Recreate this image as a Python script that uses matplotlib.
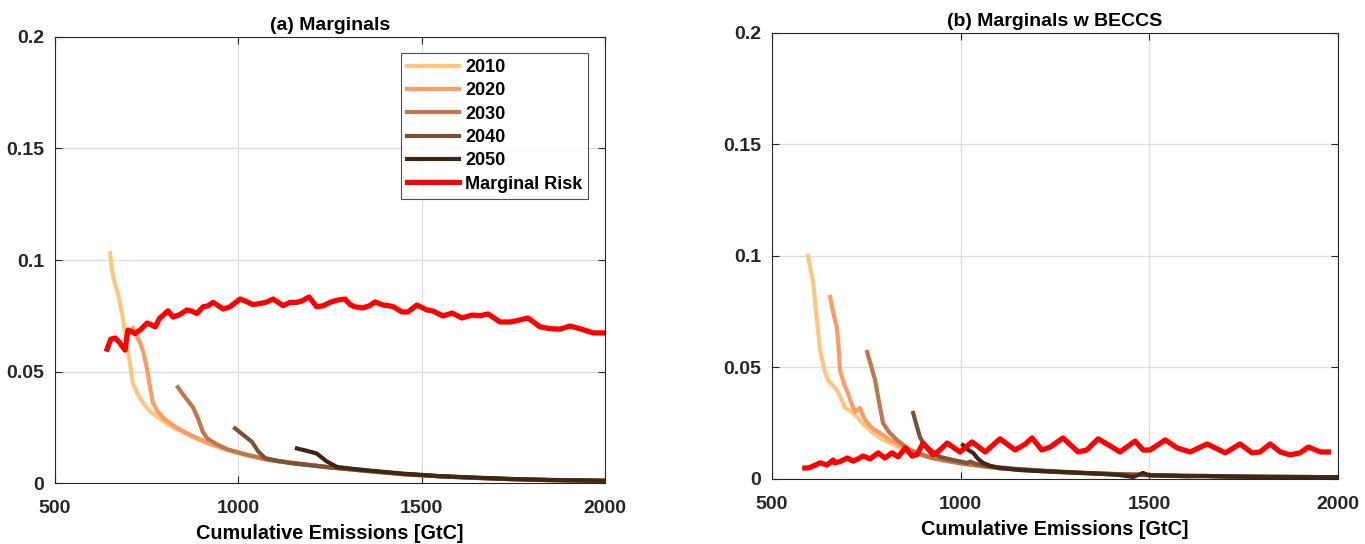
import numpy as np
import matplotlib.pyplot as plt

plt.rcParams["font.family"] = ["Liberation Sans", "DejaVu Sans"]
plt.rcParams["font.weight"] = "bold"

YEARS = ["2010", "2020", "2030", "2040", "2050"]
COLORS = ["#fec67f", "#fa9c68", "#bd784f", "#7b5236", "#3e2718"]
RISK_COLOR = "#ff0000"

# (a) Marginals
x10a = [650, 656, 662, 670, 678, 685, 692, 698, 705, 712, 725, 740, 760, 785, 810, 840, 876, 920, 969,
        1020, 1078, 1150, 1250, 1350, 1450, 1550, 1650, 1750, 1850, 1950, 2000]
y10a = [0.103, 0.095, 0.09, 0.086, 0.080, 0.074, 0.066, 0.060, 0.053, 0.045, 0.040, 0.036, 0.032, 0.029,
        0.026, 0.0235, 0.0205, 0.0175, 0.0148, 0.0125, 0.0103, 0.0088, 0.0069, 0.0053, 0.0039, 0.003,
        0.0022, 0.0017, 0.0013, 0.0011, 0.001]
x20a = [713, 722, 732, 742, 750, 758, 767, 780, 800, 830, 876, 920, 969, 1020, 1078, 1150, 1250, 1350,
        1450, 1550, 1650, 1750, 1850, 1950, 2000]
y20a = [0.0695, 0.066, 0.063, 0.058, 0.052, 0.044, 0.036, 0.032, 0.0285, 0.025, 0.021, 0.0178, 0.015,
        0.0127, 0.0105, 0.0089, 0.007, 0.0054, 0.004, 0.003, 0.0023, 0.0017, 0.0013, 0.0011, 0.001]
x30a = [835, 848, 862, 876, 890, 903, 915, 940, 969, 1020, 1078, 1150, 1250, 1350, 1450, 1550, 1650,
        1750, 1850, 1950, 2000]
y30a = [0.043, 0.040, 0.037, 0.034, 0.029, 0.023, 0.020, 0.0175, 0.0152, 0.0128, 0.0106, 0.009, 0.0071,
        0.0055, 0.004, 0.003, 0.0023, 0.0017, 0.0013, 0.0011, 0.001]
x40a = [991, 1010, 1037, 1055, 1073, 1110, 1150, 1250, 1350, 1450, 1550, 1650, 1750, 1850, 1950, 2000]
y40a = [0.0245, 0.022, 0.0185, 0.014, 0.0112, 0.0098, 0.0088, 0.007, 0.0055, 0.004, 0.003, 0.0023,
        0.0017, 0.0013, 0.0011, 0.001]
x50a = [1160, 1190, 1214, 1240, 1269, 1300, 1350, 1450, 1550, 1650, 1750, 1850, 1950, 2000]
y50a = [0.0155, 0.0143, 0.0132, 0.0098, 0.0072, 0.0066, 0.0057, 0.0042, 0.0031, 0.0024, 0.0018, 0.0014,
        0.0011, 0.001]
xra = [642, 652, 664, 676, 691, 699, 708, 718, 735, 751, 762, 773, 786, 797, 808, 822, 840, 860, 874, 887,
       904, 918, 931, 945, 959, 977, 1005, 1020, 1040, 1060, 1075, 1095, 1122, 1141, 1160, 1173, 1193, 1214,
       1232, 1250, 1270, 1291, 1305, 1318, 1340, 1358, 1373, 1395, 1410, 1423, 1446, 1463, 1487, 1514, 1531,
       1558, 1583, 1610, 1637, 1660, 1681, 1714, 1741, 1765, 1790, 1823, 1850, 1877, 1905, 1935, 1968, 1995]
yra = [0.060, 0.0645, 0.065, 0.063, 0.0596, 0.0686, 0.068, 0.067, 0.069, 0.0717, 0.071, 0.070, 0.074,
       0.0755, 0.0772, 0.0744, 0.0755, 0.0776, 0.077, 0.076, 0.079, 0.0795, 0.081, 0.0795, 0.078, 0.079,
       0.0825, 0.0815, 0.080, 0.0805, 0.081, 0.0825, 0.0795, 0.081, 0.081, 0.0816, 0.0834, 0.079, 0.0795,
       0.081, 0.082, 0.0825, 0.080, 0.079, 0.0785, 0.0795, 0.0812, 0.0798, 0.0795, 0.079, 0.0767, 0.0767,
       0.0798, 0.0776, 0.0771, 0.0749, 0.0762, 0.074, 0.0753, 0.075, 0.0758, 0.0722, 0.0722, 0.073, 0.074,
       0.070, 0.0692, 0.069, 0.0704, 0.069, 0.0673, 0.0673]

# (b) Marginals w BECCS
x10b = [595, 602, 609, 618, 627, 637, 648, 660, 672, 683, 693, 708, 725, 745, 768, 790, 813, 835, 858, 900,
        950, 1000, 1050, 1100, 1200, 1300, 1400, 1500, 1600, 1700, 1800, 1900, 2000]
y10b = [0.1, 0.094, 0.088, 0.073, 0.058, 0.05, 0.0444, 0.042, 0.040, 0.036, 0.032, 0.0305, 0.0278, 0.024,
        0.0206, 0.018, 0.016, 0.0143, 0.013, 0.0105, 0.0085, 0.007, 0.0058, 0.0048, 0.0037, 0.0028, 0.0022,
        0.0017, 0.0014, 0.0012, 0.001, 0.0009, 0.0008]
x20b = [654, 663, 672, 676, 680, 690, 701, 710, 720, 733, 742, 752, 768, 786, 810, 840, 870, 900, 950, 1000,
        1050, 1100, 1200, 1300, 1400, 1500, 1600, 1700, 1800, 1900, 2000]
y20b = [0.0816, 0.074, 0.0677, 0.060, 0.0489, 0.043, 0.0386, 0.034, 0.030, 0.0318, 0.028, 0.0251, 0.0225,
        0.0206, 0.0178, 0.015, 0.0128, 0.011, 0.0088, 0.0072, 0.0059, 0.0049, 0.0037, 0.0028, 0.0022,
        0.0017, 0.0014, 0.0012, 0.001, 0.0009, 0.0008]
x30b = [752, 762, 773, 784, 794, 810, 831, 850, 866, 890, 920, 950, 1000, 1050, 1100, 1200, 1300, 1400,
        1500, 1600, 1700, 1800, 1900, 2000]
y30b = [0.0569, 0.051, 0.0444, 0.034, 0.0251, 0.021, 0.0175, 0.015, 0.013, 0.0112, 0.0095, 0.0085, 0.007,
        0.0059, 0.0049, 0.0037, 0.0028, 0.0022, 0.0017, 0.0014, 0.0012, 0.001, 0.0009, 0.0008]
x40b = [874, 883, 892, 901, 911, 928, 945, 980, 1017, 1025, 1040, 1078, 1150, 1250, 1350, 1450, 1550, 1650,
        1750, 1850, 2000]
y40b = [0.0296, 0.024, 0.0188, 0.016, 0.0143, 0.012, 0.0099, 0.0085, 0.0072, 0.0078, 0.0068, 0.0056,
        0.0045, 0.0034, 0.0026, 0.002, 0.0016, 0.0013, 0.0011, 0.001, 0.0008]
x50b = [1006, 1020, 1033, 1046, 1059, 1080, 1104, 1157, 1200, 1282, 1350, 1420, 1457, 1483, 1500, 1550,
        1600, 1650, 1700, 1800, 1900, 2000]
y50b = [0.0152, 0.013, 0.0117, 0.009, 0.0072, 0.0058, 0.0049, 0.004, 0.0036, 0.003, 0.0025, 0.0018,
        0.0009, 0.0027, 0.0016, 0.0015, 0.0012, 0.0014, 0.0011, 0.0009, 0.0008, 0.0008]
xrb = [587, 598, 612, 627, 646, 662, 666, 680, 699, 715, 728, 741, 760, 781, 799, 818, 834, 853, 871, 885,
       900, 927, 945, 964, 998, 1030, 1065, 1104, 1144, 1170, 1189, 1215, 1237, 1271, 1311, 1334, 1364,
       1401, 1422, 1462, 1483, 1502, 1542, 1574, 1608, 1653, 1701, 1740, 1772, 1793, 1820, 1847, 1873,
       1899, 1921, 1953, 1974]
yrb = [0.0049, 0.005, 0.006, 0.0072, 0.0063, 0.0085, 0.0072, 0.0078, 0.0094, 0.008, 0.009, 0.0103, 0.009,
       0.0117, 0.0094, 0.0117, 0.0099, 0.0139, 0.0103, 0.011, 0.0161, 0.0108, 0.013, 0.0161, 0.0121,
       0.0166, 0.0121, 0.0180, 0.013, 0.0155, 0.0184, 0.013, 0.0143, 0.0184, 0.0121, 0.013, 0.018, 0.0143,
       0.0121, 0.017, 0.013, 0.013, 0.0175, 0.0139, 0.0121, 0.0157, 0.0117, 0.0157, 0.0117, 0.0121, 0.0157,
       0.0121, 0.0108, 0.0117, 0.0143, 0.0121, 0.0121]

X_TICKS = [500, 1000, 1500, 2000]
Y_TICKS = [0, 0.05, 0.1, 0.15, 0.2]
Y_LABELS = ["0", "0.05", "0.1", "0.15", "0.2"]


def style_axes(ax, title):
    ax.set_xlim(500, 2000)
    ax.set_ylim(0, 0.2)
    ax.set_xticks(X_TICKS)
    ax.set_yticks(Y_TICKS)
    ax.set_yticklabels(Y_LABELS)
    ax.tick_params(direction="in", top=True, right=True, labelsize=14, length=5,
                   color="#262626", labelcolor="#262626", pad=8)
    ax.tick_params(axis="x", pad=12)
    for lab in ax.get_xticklabels() + ax.get_yticklabels():
        lab.set_fontweight("bold")
    for sp in ax.spines.values():
        sp.set_color("#262626")
        sp.set_linewidth(0.8)
    ax.grid(True, color="#dcdcdc", lw=0.9)
    ax.set_axisbelow(True)
    ax.set_title(title, fontsize=14, fontweight="bold", pad=5)
    ax.set_xlabel("Cumulative Emissions [GtC]", fontsize=14.3, fontweight="bold", labelpad=5.5)


fig = plt.figure(figsize=(13.65, 5.44), dpi=100)
ax1 = fig.add_axes([0.0403, 0.1121, 0.4029, 0.8199])
ax2 = fig.add_axes([0.5656, 0.1195, 0.4147, 0.8199])

series_a = [(x10a, y10a), (x20a, y20a), (x30a, y30a), (x40a, y40a), (x50a, y50a)]
series_b = [(x10b, y10b), (x20b, y20b), (x30b, y30b), (x40b, y40b), (x50b, y50b)]

for (xs, ys), c, lab in zip(series_a, COLORS, YEARS):
    ax1.plot(xs, ys, color=c, lw=3, label=lab, solid_joinstyle="round")
ax1.plot(xra, yra, color=RISK_COLOR, lw=3.8, label="Marginal Risk")

for (xs, ys), c in zip(series_b, COLORS):
    ax2.plot(xs, ys, color=c, lw=3, solid_joinstyle="round")
ax2.plot(xrb, yrb, color=RISK_COLOR, lw=3.8)

style_axes(ax1, "(a) Marginals")
style_axes(ax2, "(b) Marginals w BECCS")

leg = ax1.legend(loc="upper right", bbox_to_anchor=(0.97, 0.965), fontsize=13, frameon=True,
                 fancybox=False, edgecolor="#262626", handlelength=2.9, handletextpad=0.3,
                 labelspacing=0.35, borderpad=0.35, borderaxespad=0)
leg.get_frame().set_linewidth(0.8)
for t in leg.get_texts():
    t.set_fontweight("bold")

fig.savefig("out.png", dpi=100)
